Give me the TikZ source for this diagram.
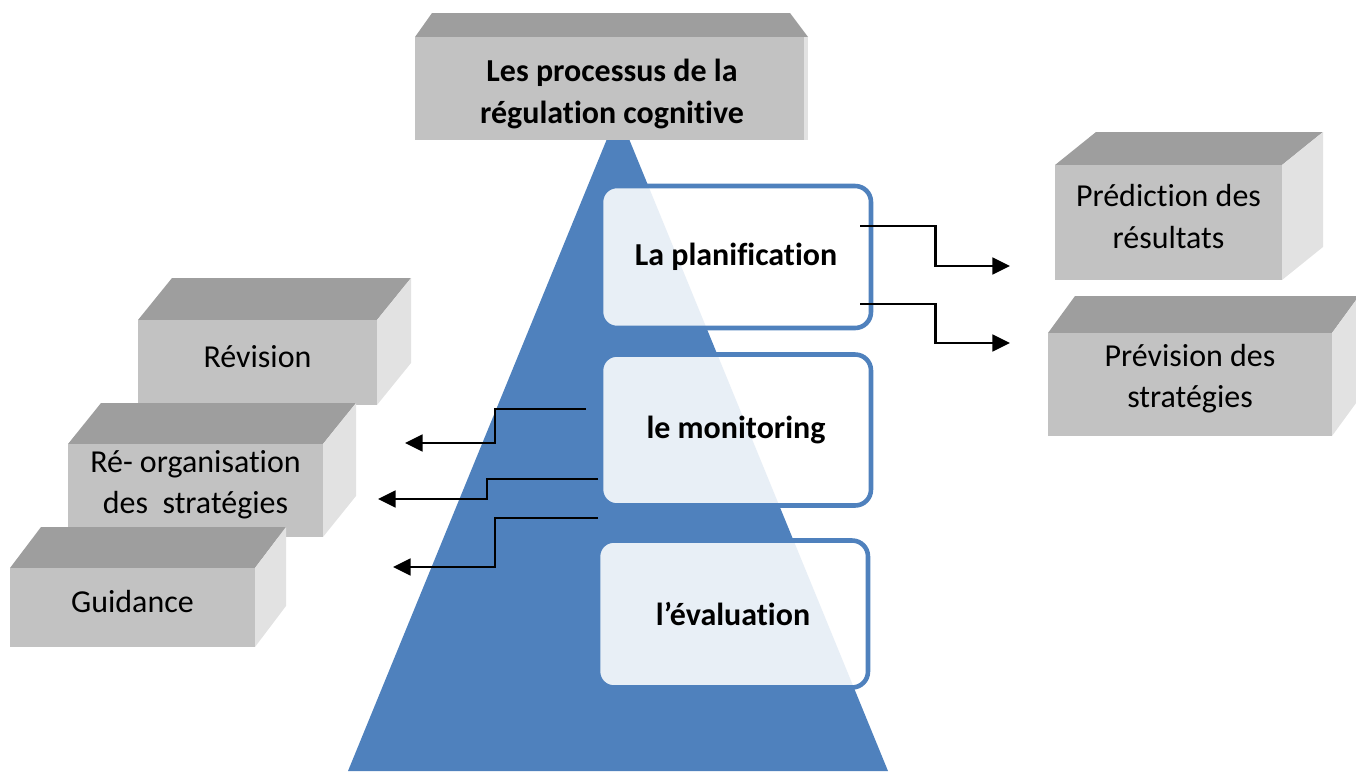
\documentclass[tikz,border=0pt]{standalone}
\usepackage{fontspec}
\setmainfont{Carlito}[Ligatures=CommonOff]
\usetikzlibrary{calc,arrows.meta}

\definecolor{pyrbleu}{HTML}{4F81BD}
\definecolor{face}{HTML}{C2C2C2}
\definecolor{dessus}{HTML}{9E9E9E}
\definecolor{cote}{HTML}{E2E2E2}

\newcommand{\taille}{\fontsize{18.2}{23.5}\selectfont}

\tikzset{
  etape/.style={draw=pyrbleu, line width=2.6pt, fill=white, fill opacity=0.875,
    text opacity=1, rounded corners=9pt, minimum width=5.4cm, font=\taille\bfseries},
  bloctexte/.style={align=center, font=\taille},
  fleche/.style={line width=1.5pt, -{Triangle[length=10pt,width=9.5pt]}}
}

% bloc en relief : nom, coin bas-gauche, coin haut-droit, profondeur, texte
\newcommand{\bloc}[5]{%
  \path #2 coordinate (#1-a) #3 coordinate (#1-b);
  \coordinate (#1-c) at (#1-a |- #1-b);
  \coordinate (#1-d) at (#1-b |- #1-a);
  \fill[dessus] (#1-c) -- (#1-b) -- ++#4 -- ($(#1-c)+#4$) -- cycle;
  \fill[cote] (#1-b) -- ++#4 -- ($(#1-d)+#4$) -- (#1-d) -- cycle;
  \fill[face] (#1-a) rectangle (#1-b);
  \node[bloctexte] (#1) at ($(#1-a)!0.5!(#1-b)+(0,-6)$) {#5};
}

\begin{document}
\begin{tikzpicture}[x=0.02cm, y=-0.02cm]
  \useasboundingbox (0,0) rectangle (1356,771);

  % Pyramide
  \fill[pyrbleu] (618,112) -- (888,771) -- (348,771) -- cycle;

  % Titre
  \fill[dessus] (415,37) -- (808,37) -- (790,13) -- (432,13) -- cycle;
  \fill[face] (415,37) rectangle (808,140);
  \fill[cote] (804,37) rectangle (808,140);
  \node[align=center, font=\taille\bfseries] (titre) at (612,94)
    {Les processus de la\\régulation cognitive};

  % Etapes
  \node[etape, minimum height=2.84cm] (plan) at (736,257) {La planification};
  \node[etape, minimum height=3.02cm] (moni) at (736,430) {le monitoring};
  \node[etape, minimum height=2.94cm] (eval) at (733,614) {l’évaluation};

  % Blocs
  \bloc{pred}{(1055,280)}{(1282,165)}{(41,-33)}{Prédiction des\\résultats}
  \bloc{prev}{(1048,436)}{(1332,333)}{(27,-37)}{Prévision des\\stratégies}
  \bloc{rev}{(138,405)}{(377,320)}{(34,-42)}{Révision}
  \bloc{reorg}{(68,537)}{(323,444)}{(33,-41)}{Ré- organisation\\des~ stratégies}
  \bloc{guid}{(10,647)}{(255,568)}{(31,-41)}{Guidance}

  % Fleches
  \coordinate (p1) at ($(plan.east)+(-13,-31)$);
  \coordinate (p2) at ($(plan.east)+(-13,47)$);
  \coordinate (q1) at (1010,266);
  \coordinate (q2) at (1010,343);
  \draw[fleche] (p1) -- ++(75,0) |- (q1);
  \draw[fleche] (p2) -- ++(75,0) |- (q2);

  \coordinate (m1) at (586,409);
  \coordinate (m2) at (598,479);
  \coordinate (m3) at (598,518);
  \coordinate (r1) at (405,443);
  \coordinate (r2) at (378,499);
  \coordinate (r3) at (393,567);
  \draw[fleche] (m1) -- ++(-91,0) |- (r1);
  \draw[fleche] (m2) -- ++(-111,0) |- (r2);
  \draw[fleche] (m3) -- ++(-103,0) |- (r3);
\end{tikzpicture}
\end{document}
